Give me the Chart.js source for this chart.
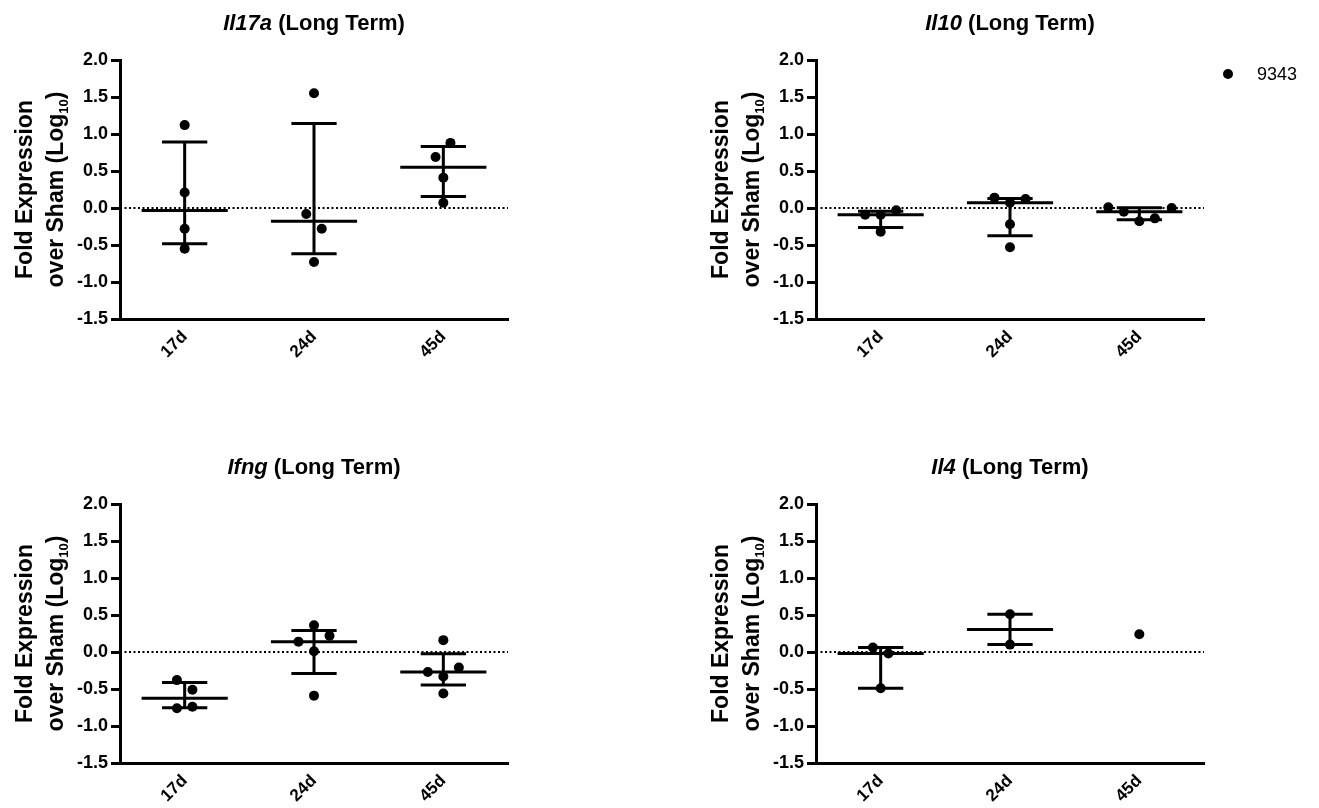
<!DOCTYPE html>
<html>
<head>
<meta charset="utf-8">
<script src="https://cdn.jsdelivr.net/npm/chart.js@4.4.1/dist/chart.umd.min.js"></script>
<style>
  html, body { margin: 0; padding: 0; background: #fff; }
  body { width: 1319px; height: 808px; position: relative; overflow: hidden; }
  canvas { position: absolute; }
</style>
</head>
<body>
<canvas id="pIl17a" width="540" height="400" style="left:0;top:0"></canvas>
<canvas id="pIl10" width="623" height="400" style="left:696px;top:0"></canvas>
<canvas id="pIfng" width="540" height="400" style="left:0;top:444px"></canvas>
<canvas id="pIl4" width="540" height="400" style="left:696px;top:444px"></canvas>
<script>
var days = ["17d", "24d", "45d"];
var yTicks = [-1.5, -1.0, -0.5, 0.0, 0.5, 1.0, 1.5, 2.0];
var mouse = "9343";

// log10 fold expression per time point
var il17a = [[1.12, 0.21, -0.28, -0.55], [1.55, -0.08, -0.28, -0.73], [0.88, 0.69, 0.41, 0.07]];
var il10 = [[-0.09, -0.09, -0.03, -0.32], [0.14, 0.12, 0.07, -0.22, -0.53], [0.01, 0.0, -0.05, -0.18, -0.14]];
var ifng = [[-0.38, -0.51, -0.76, -0.74], [0.36, 0.22, 0.14, 0.01, -0.59], [0.16, -0.27, -0.21, -0.33, -0.56]];
var il4 = [[0.06, -0.02, -0.49], [0.51, 0.10], [0.24]];

// horizontal scatter of the dots, in category units
var il17aSpread = [[0, 0, 0, 0], [0, -0.06, 0.06, 0], [0.055, -0.06, 0, 0]];
var il10Spread = [[-0.12, 0, 0.12, 0], [-0.12, 0.12, 0, 0, 0], [-0.24, 0.25, -0.12, 0, 0.12]];
var ifngSpread = [[-0.06, 0.06, -0.06, 0.06], [0, 0.12, -0.12, 0, 0], [0, -0.12, 0.12, 0, 0]];
var il4Spread = [[-0.06, 0.06, 0], [0, 0], [0]];

var FONT = '"Liberation Sans", Arial, Helvetica, sans-serif';

// GraphPad style quantile (n+1 method)
function quantile(s, p) {
  var pos = (s.length + 1) * p;
  if (pos <= 1) return s[0];
  if (pos >= s.length) return s[s.length - 1];
  var lo = Math.floor(pos);
  return s[lo - 1] + (pos - lo) * (s[lo] - s[lo - 1]);
}

function buildData(values, spread) {
  var pts = [], med = [], bars = [];
  values.forEach(function (group, i) {
    var c = i + 1;
    group.forEach(function (v, j) { pts.push({x: c + spread[i][j], y: v}); });
    if (group.length < 2) return;
    var s = group.slice().sort(function (a, b) { return a - b; });
    var m = quantile(s, 0.5), q1 = quantile(s, 0.25), q3 = quantile(s, 0.75);
    med.push({x: c - 0.333, y: m}, {x: c + 0.333, y: m}, {x: c, y: null});
    bars.push({x: c - 0.175, y: q3}, {x: c + 0.175, y: q3}, {x: c, y: null},
              {x: c, y: q3}, {x: c, y: q1}, {x: c, y: null},
              {x: c - 0.175, y: q1}, {x: c + 0.175, y: q1}, {x: c, y: null});
  });
  return [
    {label: mouse, type: "scatter", data: pts, pointRadius: 5, pointHoverRadius: 5,
     backgroundColor: "#000", borderColor: "#000", borderWidth: 0},
    {type: "line", data: med, borderColor: "#000", borderWidth: 3, pointRadius: 0, spanGaps: false},
    {type: "line", data: bars, borderColor: "#000", borderWidth: 3, pointRadius: 0, spanGaps: false},
    {type: "line", data: [{x: 0.5, y: 0}, {x: 3.5, y: 0}], borderColor: "#000", borderWidth: 2,
     borderDash: [2, 2.5], pointRadius: 0}
  ];
}

function textPlugin(gene, withLegend) {
  return {
    id: "panelText",
    afterDraw: function (chart) {
      var ctx = chart.ctx, a = chart.chartArea;
      ctx.save();
      ctx.fillStyle = "#000";
      ctx.textAlign = "left";
      ctx.textBaseline = "alphabetic";

      // title: gene name in italics
      var fi = "italic bold 22px " + FONT, fb = "bold 22px " + FONT, rest = " (Long Term)";
      ctx.font = fi; var w1 = ctx.measureText(gene).width;
      ctx.font = fb; var w2 = ctx.measureText(rest).width;
      var tx = (a.left + a.right) / 2 - (w1 + w2) / 2;
      ctx.font = fi; ctx.fillText(gene, tx, 30);
      ctx.font = fb; ctx.fillText(rest, tx + w1, 30);

      // y axis title, two lines with subscript
      var big = "bold 23px " + FONT, small = "bold 13px " + FONT;
      var cy = (a.top + a.bottom) / 2;
      ctx.save();
      ctx.translate(a.left - 88, cy);
      ctx.rotate(-Math.PI / 2);
      ctx.font = big;
      ctx.textAlign = "center";
      ctx.fillText("Fold Expression", 0, 0);
      ctx.restore();

      ctx.save();
      ctx.translate(a.left - 57, cy);
      ctx.rotate(-Math.PI / 2);
      var p1 = "over Sham (Log", p2 = "10", p3 = ")";
      ctx.font = big; var a1 = ctx.measureText(p1).width, a3 = ctx.measureText(p3).width;
      ctx.font = small; var a2 = ctx.measureText(p2).width;
      var x = -(a1 + a2 + a3) / 2;
      ctx.font = big; ctx.fillText(p1, x, 0);
      ctx.font = small; ctx.fillText(p2, x + a1, 5);
      ctx.font = big; ctx.fillText(p3, x + a1 + a2, 0);
      ctx.restore();

      if (withLegend) {
        var lx = a.right + 24, ly = 74;
        ctx.beginPath();
        ctx.arc(lx, ly, 5, 0, Math.PI * 2);
        ctx.fill();
        ctx.font = "18px " + FONT;
        ctx.textBaseline = "middle";
        ctx.fillText(chart.data.datasets[0].label, lx + 29, ly + 1);
      }
      ctx.restore();
    }
  };
}

function makePanel(id, gene, values, spread, padRight, withLegend) {
  var h = 400;
  return new Chart(id, {
    type: "scatter",
    data: {datasets: buildData(values, spread)},
    plugins: [textPlugin(gene, withLegend)],
    options: {
      responsive: false,
      animation: false,
      layout: {padding: {left: 0, top: 60, right: padRight, bottom: 0}},
      plugins: {legend: {display: false}, tooltip: {enabled: false}},
      scales: {
        x: {
          type: "linear", min: 0.5, max: 3.5,
          afterBuildTicks: function (s) { s.ticks = days.map(function (d, i) { return {value: i + 1}; }); },
          afterFit: function (s) { s.height = h - 319; },
          grid: {display: false, drawTicks: false},
          border: {display: true, color: "#000", width: 3},
          ticks: {
            autoSkip: false, minRotation: 45, maxRotation: 45, padding: 8, color: "#000",
            font: {family: FONT, size: 17, weight: "bold"},
            callback: function (v) { return days[v - 1]; }
          }
        },
        y: {
          min: yTicks[0], max: yTicks[yTicks.length - 1],
          afterBuildTicks: function (s) { s.ticks = yTicks.map(function (v) { return {value: v}; }); },
          afterFit: function (s) { s.width = 120; },
          grid: {display: true, drawOnChartArea: false, drawTicks: true, tickLength: 9, lineWidth: 3, color: "#000"},
          border: {display: true, color: "#000", width: 3},
          ticks: {
            padding: 3, color: "#000",
            font: {family: FONT, size: 18, weight: "bold"},
            callback: function (v) { return v.toFixed(1); }
          }
        }
      }
    }
  });
}

makePanel("pIl17a", "Il17a", il17a, il17aSpread, 32, false);
makePanel("pIl10", "Il10", il10, il10Spread, 115, true);
makePanel("pIfng", "Ifng", ifng, ifngSpread, 32, false);
makePanel("pIl4", "Il4", il4, il4Spread, 32, false);
</script>
</body>
</html>
